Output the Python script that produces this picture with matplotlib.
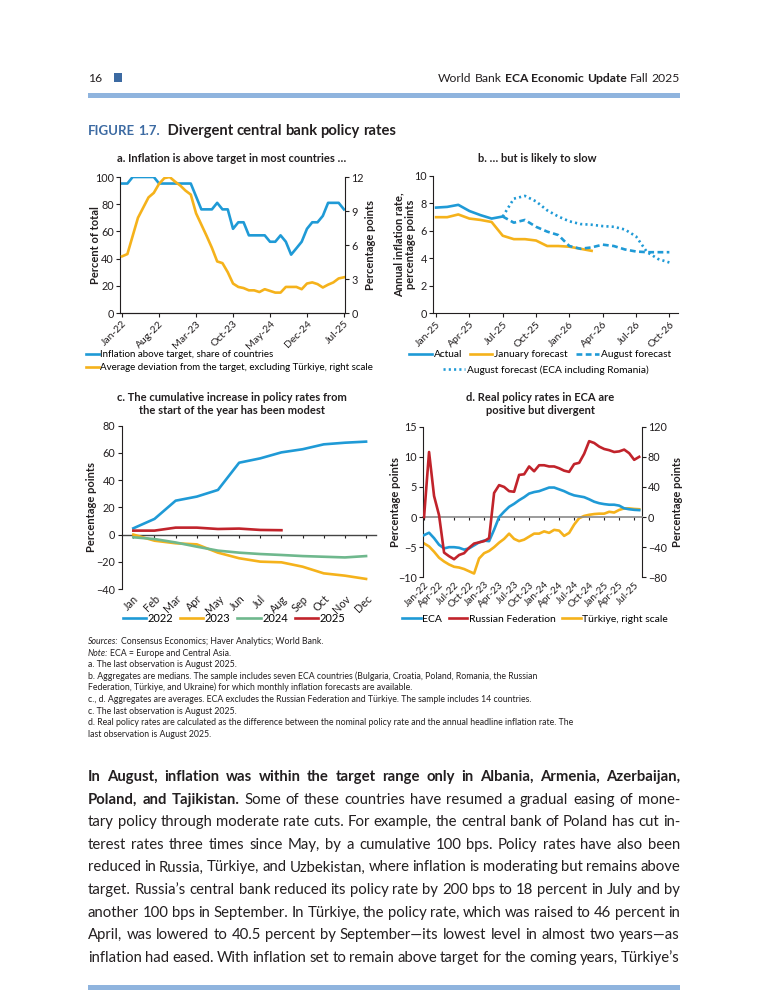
import numpy as np
import matplotlib
matplotlib.use('Agg')
import matplotlib.pyplot as plt
from matplotlib import font_manager
from matplotlib.patches import Rectangle

installed = {f.name for f in font_manager.fontManager.ttflist}
MAIN = 'Lato' if 'Lato' in installed else 'DejaVu Sans'
plt.rcParams['font.family'] = [MAIN, 'DejaVu Sans']
plt.rcParams['axes.unicode_minus'] = True

INK = '#231f20'
BLUE = '#1f9ad6'
ORANGE = '#f5b21b'
RED = '#c1232b'
GREEN = '#6fb88d'
BAR = '#8fb4de'
FIGBLUE = '#3c6aa2'

W, H = 768, 1008

# ---------------- data ----------------
# a. monthly, Jan-22 .. Jul-25
a_ticklabels = ['Jan-22', 'Aug-22', 'Mar-23', 'Oct-23', 'May-24', 'Dec-24', 'Jul-25']
a_share = [95.2, 95.2, 100, 100, 100, 100, 100, 95.2, 95.2, 95.2, 95.2, 95.2, 95.2, 95.2,
           85.7, 76.2, 76.2, 76.2, 81.0, 76.2, 76.2, 61.9, 66.7, 66.7, 57.1, 57.1, 57.1,
           57.1, 52.4, 52.4, 57.1, 52.4, 42.9, 47.6, 52.4, 61.9, 66.7, 66.7, 71.4, 81.0,
           81.0, 81.0, 76.2]
a_dev = [5.0, 5.2, 6.8, 8.4, 9.3, 10.2, 10.6, 11.4, 11.9, 12.0, 11.6, 11.25, 10.8, 10.45,
         8.8, 7.8, 6.8, 5.75, 4.55, 4.4, 3.6, 2.6, 2.3, 2.2, 2.0, 2.0, 1.85, 2.1, 1.95,
         1.8, 1.8, 2.3, 2.3, 2.3, 2.1, 2.6, 2.7, 2.55, 2.25, 2.5, 2.7, 3.05, 3.15]

# b. monthly, Jan-25 .. Oct-26
b_ticklabels = ['Jan-25', 'Apr-25', 'Jul-25', 'Oct-25', 'Jan-26', 'Apr-26', 'Jul-26', 'Oct-26']
b_actual = [7.7, 7.75, 7.9, 7.45, 7.15, 6.9, 7.05]
b_jan_fc = [7.0, 7.0, 7.2, 6.9, 6.8, 6.65, 5.65, 5.4, 5.4, 5.3, 4.9, 4.9, 4.85, 4.7, 4.55]
b_aug_start = 6  # August forecasts begin at Jul-25
b_aug_fc = [7.05, 6.6, 6.8, 6.3, 5.95, 5.7, 4.9, 4.7, 4.8, 5.0, 4.9, 4.65, 4.5, 4.45, 4.45, 4.45]
b_aug_ro = [7.05, 8.35, 8.55, 8.15, 7.5, 7.05, 6.7, 6.5, 6.45, 6.35, 6.3, 6.1, 5.6, 4.45, 3.95, 3.7]

# c. cumulative change by calendar month
c_months = ['Jan', 'Feb', 'Mar', 'Apr', 'May', 'Jun', 'Jul', 'Aug', 'Sep', 'Oct', 'Nov', 'Dec']
c_2022 = [4.6, 11.5, 24.9, 27.9, 32.8, 52.8, 56.0, 60.4, 62.7, 66.3, 67.5, 68.3]
c_2023 = [0.0, -4.5, -6.4, -7.2, -13.3, -17.4, -19.9, -20.4, -23.6, -28.5, -30.2, -32.6]
c_2024 = [-2.0, -3.3, -5.8, -8.9, -11.8, -13.3, -14.3, -15.0, -15.8, -16.3, -16.8, -15.8]
c_2025 = [2.9, 2.9, 5.1, 5.1, 4.1, 4.4, 3.4, 3.2]

# d. monthly, Jan-22 .. Aug-25
d_ticklabels = ['Jan-22', 'Apr-22', 'Jul-22', 'Oct-22', 'Jan-23', 'Apr-23', 'Jul-23', 'Oct-23',
                'Jan-24', 'Apr-24', 'Jul-24', 'Oct-24', 'Jan-25', 'Apr-25', 'Jul-25']
d_eca = [-3.0, -2.6, -3.5, -4.6, -5.2, -5.0, -5.0, -5.1, -5.4, -5.2, -4.7, -4.2, -3.9, -4.0,
         -2.1, 0.0, 0.9, 1.7, 2.2, 2.8, 3.3, 3.9, 4.15, 4.3, 4.6, 4.9, 4.9, 4.6, 4.3, 3.9,
         3.6, 3.45, 3.3, 2.95, 2.55, 2.3, 2.15, 2.05, 2.05, 1.9, 1.45, 1.3, 1.2, 1.15]
d_rus = [0.0, 10.8, 3.5, 0.3, -5.9, -6.5, -7.0, -6.3, -6.0, -5.1, -4.4, -4.2, -4.0, -3.5,
         4.0, 5.3, 5.0, 4.3, 4.2, 7.0, 7.1, 8.4, 7.6, 8.6, 8.6, 8.4, 8.4, 8.1, 7.7, 7.5,
         8.8, 9.0, 10.5, 12.6, 12.3, 11.7, 11.3, 11.1, 10.8, 10.9, 11.2, 10.6, 9.5, 10.0]
d_tur = [-35, -39, -46, -54, -59, -63, -66, -67, -69, -72, -75, -55, -48, -45, -40, -34,
         -29, -22, -29, -32, -30, -26, -22, -22, -19, -21, -17, -18, -25, -21, -10, -1.5,
         1.5, 3, 4, 4.5, 4.5, 7, 6, 9.5, 11.5, 11.5, 10.8, 10.4]

notes_lead = ['Sources:', 'Note:', '', '', '', '', '', '', '']
notes_lines = [
    'Consensus Economics; Haver Analytics; World Bank.',
    'ECA = Europe and Central Asia.',
    'a. The last observation is August 2025.',
    'b. Aggregates are medians. The sample includes seven ECA countries (Bulgaria, Croatia, Poland, Romania, the Russian',
    'Federation, Türkiye, and Ukraine) for which monthly inflation forecasts are available.',
    'c., d. Aggregates are averages. ECA excludes the Russian Federation and Türkiye. The sample includes 14 countries.',
    'c. The last observation is August 2025.',
    'd. Real policy rates are calculated as the difference between the nominal policy rate and the annual headline inflation rate. The',
    'last observation is August 2025.',
]

body_lines = [
    'In August, inflation was within the target range only in Albania, Armenia, Azerbaijan,',
    'Poland, and Tajikistan. Some of these countries have resumed a gradual easing of mone-',
    'tary policy through moderate rate cuts. For example, the central bank of Poland has cut in-',
    'terest rates three times since May, by a cumulative 100 bps. Policy rates have also been',
    'reduced in Russia, Türkiye, and Uzbekistan, where inflation is moderating but remains above',
    'target. Russia\u2019s central bank reduced its policy rate by 200 bps to 18 percent in July and by',
    'another 100 bps in September. In Türkiye, the policy rate, which was raised to 46 percent in',
    'April, was lowered to 40.5 percent by September\u2014its lowest level in almost two years\u2014as',
    'inflation had eased. With inflation set to remain above target for the coming years, Türkiye\u2019s',
]
body_bold = [13, 3, 0, 0, 0, 0, 0, 0, 0]

# ---------------- figure ----------------
fig = plt.figure(figsize=(W / 100, H / 100), dpi=100)
renderer = fig.canvas.get_renderer()


def px_axes(l, t, r, b):
    return fig.add_axes([l / W, 1 - b / H, (r - l) / W, (b - t) / H])


def text_w(s, size, family, weight='normal', style='normal'):
    t = fig.text(0, 0, s, fontsize=size, family=family, fontweight=weight, fontstyle=style)
    w = t.get_window_extent(renderer).width
    t.remove()
    return w


def draw_run(tokens, x, y, size, family, gap=None, x_end=None):
    # tokens: list of (word, weight, style, color, size or None); words placed on a baseline
    widths = [text_w(t[0], t[4] or size, family, t[1], t[2]) for t in tokens]
    if gap is None:
        gap = text_w('x x', size, family) - text_w('xx', size, family)
    if x_end is not None and len(tokens) > 1:
        gap = (x_end - x - sum(widths)) / (len(tokens) - 1)
    for (word, wt, st, col, sz), w in zip(tokens, widths):
        fig.text(x / W, 1 - y / H, word, fontsize=sz or size, family=family, fontweight=wt,
                 fontstyle=st, color=col, va='baseline', ha='left')
        x += w + gap
    return x


def style_axes(ax, left=True, right=False):
    for s in ['top', 'right', 'left', 'bottom']:
        ax.spines[s].set_linewidth(0.8)
        ax.spines[s].set_color(INK)
    ax.spines['top'].set_visible(False)
    ax.spines['right'].set_visible(right)
    ax.spines['left'].set_visible(left)
    ax.tick_params(colors=INK, labelsize=7.8, length=3, width=0.8, pad=1.5)
    ax.patch.set_alpha(0)


LW = 1.9
fam = [MAIN, 'DejaVu Sans']
YL = 8.0   # axis label size
XT = 7.5   # rotated tick label size

# header
fig.text(88 / W, 1 - 82 / H, '16', fontsize=8.8, color=INK, va='baseline')
fig.add_artist(Rectangle((114 / W, 1 - 82 / H), 8 / W, 9 / H, transform=fig.transFigure,
                         color=FIGBLUE, lw=0))
hdr = [('World', 'normal'), ('Bank', 'normal'), ('ECA', 'bold'), ('Economic', 'bold'),
       ('Update', 'bold'), ('Fall', 'normal'), ('2025', 'normal')]
sw = text_w('x x', 8.7, fam) - text_w('xx', 8.7, fam)
tot = sum(text_w(w, 8.7, fam, wt) for w, wt in hdr) + sw * (len(hdr) - 1)
draw_run([(w, wt, 'normal', INK, None) for w, wt in hdr], 680 - tot, 82, 8.7, fam)
fig.add_artist(Rectangle((88 / W, 1 - 98 / H), 592 / W, 5 / H, transform=fig.transFigure,
                         color=BAR, lw=0))
fig.add_artist(Rectangle((88 / W, 1 - 990 / H), 592 / W, 5 / H, transform=fig.transFigure,
                         color=BAR, lw=0))

# figure title
draw_run([('FIGURE', 'bold', 'normal', FIGBLUE, None), ('1.7.', 'bold', 'normal', FIGBLUE, None),
          (' Divergent', 'bold', 'normal', INK, 10.6), ('central', 'bold', 'normal', INK, 10.6),
          ('bank', 'bold', 'normal', INK, 10.6), ('policy', 'bold', 'normal', INK, 10.6),
          ('rates', 'bold', 'normal', INK, 10.6)], 88, 135, 9.5, fam)

# panel titles
TS = 8.0
fig.text(232 / W, 1 - 159 / H, 'a. Inflation is above target in most countries \u2026',
         ha='center', va='center', fontsize=TS, fontweight='bold', color=INK)
fig.text(537 / W, 1 - 159 / H, 'b. \u2026 but is likely to slow',
         ha='center', va='center', fontsize=TS, fontweight='bold', color=INK)
fig.text(232 / W, 1 - 404 / H, 'c. The cumulative increase in policy rates from\nthe start of the year has been modest',
         ha='center', va='center', fontsize=TS, fontweight='bold', color=INK, linespacing=1.2)
fig.text(540 / W, 1 - 404 / H, 'd. Real policy rates in ECA are\npositive but divergent',
         ha='center', va='center', fontsize=TS, fontweight='bold', color=INK, linespacing=1.2)

# ---- panel a ----
axa = px_axes(120, 177, 345, 313)
xa = np.arange(len(a_share))
la, = axa.plot(xa, a_share, color=BLUE, lw=LW, solid_joinstyle='round')
axa2 = axa.twinx()
lo, = axa2.plot(xa, a_dev, color=ORANGE, lw=LW, solid_joinstyle='round')
axa.set_xlim(-0.4, 42.2)
axa.set_ylim(0, 100)
axa2.set_ylim(0, 12)
axa.set_yticks(range(0, 101, 20))
axa2.set_yticks(range(0, 13, 3))
axa.set_xticks(np.arange(0, 43, 7))
axa.set_xticklabels(a_ticklabels, rotation=45, ha='right', rotation_mode='anchor')
style_axes(axa)
style_axes(axa2, left=False, right=True)
axa.tick_params(axis='x', labelsize=XT)
axa.set_ylabel('Percent of total', fontsize=YL, fontweight='bold', color=INK)
axa.yaxis.set_label_coords(-0.085, 0.5)
axa2.set_ylabel('Percentage points', fontsize=YL, fontweight='bold', color=INK)
axa2.yaxis.set_label_coords(1.09, 0.5)
fig.legend([la, lo], ['Inflation above target, share of countries',
                      'Average deviation from the target, excluding Türkiye, right scale'],
           loc='upper left', bbox_to_anchor=(86 / W, 1 - 350 / H), frameon=False, fontsize=7,
           handlelength=1.3, handletextpad=0.15, labelspacing=0.45, borderaxespad=0, borderpad=0)

# ---- panel b ----
axb = px_axes(433.3, 176, 677.7, 313.3)
lj, = axb.plot(np.arange(len(b_jan_fc)), b_jan_fc, color=ORANGE, lw=LW, zorder=2)
lact, = axb.plot(np.arange(len(b_actual)), b_actual, color=BLUE, lw=LW, zorder=3)
xf = np.arange(len(b_aug_fc)) + b_aug_start
lau, = axb.plot(xf, b_aug_fc, color=BLUE, lw=LW, ls=(0, (2.2, 1.3)), zorder=3)
lro, = axb.plot(xf, b_aug_ro, color=BLUE, lw=LW, ls=(0, (0.8, 1.2)), zorder=3)
axb.set_xlim(-0.25, 21.75)
axb.set_ylim(0, 10)
axb.set_yticks(range(0, 11, 2))
axb.set_xticks(np.arange(0, 22, 3))
axb.set_xticklabels(b_ticklabels, rotation=45, ha='right', rotation_mode='anchor')
style_axes(axb)
axb.tick_params(axis='x', labelsize=XT)
axb.set_ylabel('Annual inflation rate,\npercentage points', fontsize=YL, fontweight='bold',
               color=INK, linespacing=1.05)
axb.yaxis.set_label_coords(-0.071, 0.5)
fig.legend([lact, lj, lau], ['Actual', 'January forecast', 'August forecast'], ncol=3,
           loc='upper center', bbox_to_anchor=(540 / W, 1 - 350 / H), frameon=False, fontsize=7.3,
           handlelength=2.2, handletextpad=0.2, columnspacing=0.8, borderaxespad=0, borderpad=0)
fig.legend([lro], ['August forecast (ECA including Romania)'],
           loc='upper center', bbox_to_anchor=(546 / W, 1 - 365 / H), frameon=False, fontsize=7.3,
           handlelength=2.2, handletextpad=0.2, borderaxespad=0, borderpad=0)

# ---- panel c ----
axc = px_axes(121.7, 425.7, 376, 589)
xc = np.arange(12)
h22, = axc.plot(xc, c_2022, color=BLUE, lw=LW)
h23, = axc.plot(xc, c_2023, color=ORANGE, lw=LW)
h24, = axc.plot(xc, c_2024, color=GREEN, lw=LW)
h25, = axc.plot(xc[:len(c_2025)], c_2025, color=RED, lw=LW)
axc.set_xlim(-0.55, 11.47)
axc.set_ylim(-40, 80)
axc.set_yticks(range(-40, 81, 20))
axc.set_xticks(xc)
axc.set_xticklabels(c_months, rotation=45, ha='right', rotation_mode='anchor')
style_axes(axc)
axc.spines['bottom'].set_visible(False)
axc.tick_params(axis='x', length=0, pad=3, labelsize=7.8)
zc = axc.secondary_xaxis(40 / 120)
zc.set_xticks(xc)
zc.tick_params(axis='x', labelbottom=False, length=2.5, width=0.8, colors=INK)
for s in zc.spines.values():
    s.set_color('#444444')
    s.set_linewidth(1.0)
axc.set_ylabel('Percentage points', fontsize=YL, fontweight='bold', color=INK)
axc.yaxis.set_label_coords(-0.097, 0.5)
fig.legend([h22, h23, h24, h25], ['2022', '2023', '2024', '2025'], ncol=4,
           loc='center', bbox_to_anchor=(234 / W, 1 - 618 / H), frameon=False, fontsize=8,
           handlelength=2.1, handletextpad=0.15, columnspacing=0.6, borderaxespad=0, borderpad=0)

# ---- panel d ----
axd = px_axes(423.3, 426.7, 641.7, 577.3)
xd = np.arange(len(d_eca))
he, = axd.plot(xd, d_eca, color=BLUE, lw=LW, zorder=3)
hr, = axd.plot(xd, d_rus, color=RED, lw=LW, zorder=4)
axd2 = axd.twinx()
ht, = axd2.plot(xd, d_tur, color=ORANGE, lw=LW)
axd.set_zorder(axd2.get_zorder() + 1)
axd.set_xlim(-0.15, 43.5)
axd.set_ylim(-10, 15)
axd2.set_ylim(-80, 120)
axd.set_yticks(range(-10, 16, 5))
axd2.set_yticks(range(-80, 121, 40))
axd.set_xticks(np.arange(0, 43, 3))
axd.set_xticklabels(d_ticklabels, rotation=45, ha='right', rotation_mode='anchor')
style_axes(axd)
style_axes(axd2, left=False, right=True)
axd.spines['bottom'].set_visible(False)
axd2.spines['bottom'].set_visible(False)
axd.tick_params(axis='x', length=0, pad=2, labelsize=7.2)
zd = axd.secondary_xaxis(10 / 25)
zd.set_xticks(np.arange(0, 43, 3))
zd.tick_params(axis='x', labelbottom=False, length=2.5, width=0.8, colors=INK)
for s in zd.spines.values():
    s.set_color('#8a8a8a')
    s.set_linewidth(1.2)
axd.set_ylabel('Percentage points', fontsize=YL, fontweight='bold', color=INK)
axd.yaxis.set_label_coords(-0.102, 0.5)
axd2.set_ylabel('Percentage points', fontsize=YL, fontweight='bold', color=INK)
axd2.yaxis.set_label_coords(1.137, 0.5)
fig.legend([he, hr, ht], ['ECA', 'Russian Federation', 'Türkiye, right scale'], ncol=3,
           loc='center', bbox_to_anchor=(535 / W, 1 - 619 / H), frameon=False, fontsize=7.5,
           handlelength=1.8, handletextpad=0.15, columnspacing=0.6, borderaxespad=0, borderpad=0)

# ---- notes: each line one text; size set so the longest line matches the source width ----
NS = 7.0
NS = NS * 485 / text_w(max(notes_lines, key=len), NS, fam)
nsp = text_w('x x', NS, fam) - text_w('xx', NS, fam)
for i, (lead, line) in enumerate(zip(notes_lead, notes_lines)):
    x = 88
    y = 1 - (644 + 11.6 * i) / H
    if lead:
        fig.text(x / W, y, lead, fontsize=NS, fontstyle='italic', color=INK, va='baseline')
        x += text_w(lead, NS, fam, style='italic') + nsp
    fig.text(x / W, y, line, fontsize=NS, color=INK, va='baseline')

# ---- body text, justified ----
BS = 11.3
natural = []
for line, nb in zip(body_lines, body_bold):
    words = line.split(' ')
    sw = text_w('x x', BS, fam) - text_w('xx', BS, fam)
    natural.append(sum(text_w(w, BS, fam, 'bold' if j < nb else 'normal')
                       for j, w in enumerate(words)) + sw * 0.75 * (len(words) - 1))
if max(natural) > 592:
    BS = BS * 592 / max(natural)
for i, (line, nb) in enumerate(zip(body_lines, body_bold)):
    words = line.split(' ')
    toks = [(w, 'bold' if j < nb else 'normal', 'normal', INK, None) for j, w in enumerate(words)]
    draw_run(toks, 88, 781 + 22.6 * i, BS, fam, x_end=680)

fig.savefig('out.png', dpi=100, facecolor='white')
